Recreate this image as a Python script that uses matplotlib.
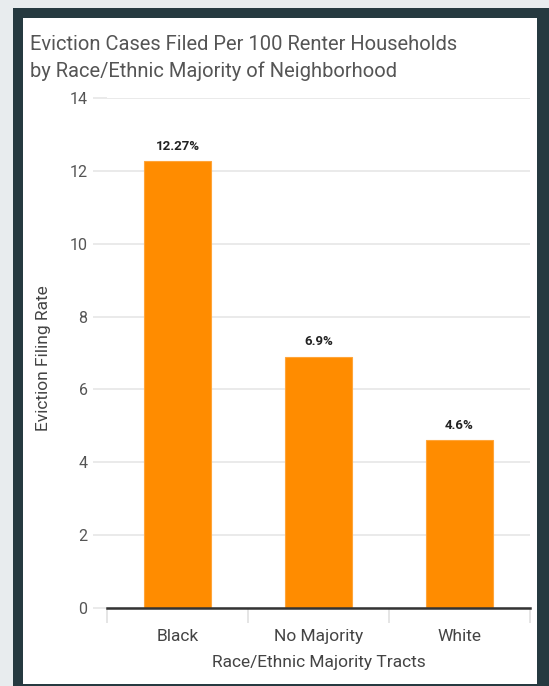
import matplotlib
matplotlib.use("Agg")
import matplotlib.pyplot as plt
from matplotlib.patches import Rectangle

categories = ["Black", "No Majority", "White"]
values = [12.27, 6.9, 4.6]
bar_labels = ["12.27%", "6.9%", "4.6%"]
yticks = [0, 2, 4, 6, 8, 10, 12, 14]
title_lines = ["Eviction Cases Filed Per 100 Renter Households",
               "by Race/Ethnic Majority of Neighborhood"]
xlabel = "Race/Ethnic Majority Tracts"
ylabel = "Eviction Filing Rate"

FONT = ["Roboto", "DejaVu Sans"]
plt.rcParams["font.family"] = FONT

W, H = 549, 686
fig = plt.figure(figsize=(W / 100, H / 100), dpi=100)
fig.patch.set_facecolor("#e8ecee")

def px_rect(x0, y0, x1, y1, color):
    # pixel coords from top-left
    fig.patches.append(Rectangle((x0 / W, 1 - y1 / H), (x1 - x0) / W, (y1 - y0) / H,
                                 transform=fig.transFigure, facecolor=color,
                                 edgecolor="none", zorder=-10))

px_rect(13, 8, 549, 686, "#263a40")
px_rect(23, 18, 537, 684, "white")

ax_l, ax_r, ax_t, ax_b = 107, 530, 98, 608
ax = fig.add_axes([ax_l / W, 1 - ax_b / H, (ax_r - ax_l) / W, (ax_b - ax_t) / H])
ax.set_facecolor("white")

x = list(range(len(categories)))
ax.bar(x, values, width=0.48, color="#ff8c00", edgecolor="#ffa53a", linewidth=0.8, zorder=3)
for xi, v, lab in zip(x, values, bar_labels):
    ax.annotate(lab, (xi, v), xytext=(0, 6), textcoords="offset points",
                ha="center", va="bottom", fontsize=9.5, fontweight="bold", color="#222222")

ax.set_xlim(-0.5, len(categories) - 0.5)
ax.set_ylim(0, 14)
ax.set_yticks(yticks)
ax.set_yticklabels([str(t) for t in yticks])
ax.grid(axis="y", color="#e6e6e6", linewidth=1.2, zorder=0)
ax.tick_params(axis="y", length=10, color="#e6e6e6", width=1.2, labelsize=11.5,
               labelcolor="#555555", pad=4)

for s in ["top", "right", "left"]:
    ax.spines[s].set_visible(False)
ax.spines["bottom"].set_color("#333333")
ax.spines["bottom"].set_linewidth(1.8)
ax.spines["bottom"].set_zorder(4)

# category boundary ticks
ax.set_xticks([-0.5, 0.5, 1.5, 2.5], minor=True)
ax.tick_params(axis="x", which="minor", length=11, color="#e0e0e0", width=1.2)
ax.set_xticks(x)
ax.set_xticklabels(categories)
ax.tick_params(axis="x", which="major", length=0, labelsize=12.5, labelcolor="#444444", pad=15)

ax.set_xlabel(xlabel, fontsize=12.5, color="#444444")
ax.xaxis.set_label_coords(0.5, -(663 - ax_b) / (ax_b - ax_t))
ax.xaxis.label.set_va("center")
ax.set_ylabel(ylabel, fontsize=12.5, color="#444444")
ax.yaxis.set_label_coords(-(ax_l - 44) / (ax_r - ax_l), (ax_b - 358) / (ax_b - ax_t))
ax.yaxis.label.set_va("center")

fig.text(30 / W, 1 - 50 / H, title_lines[0], ha="left", va="baseline", fontsize=14.5,
         color="#555555")
fig.text(30 / W, 1 - 77 / H, title_lines[1], ha="left", va="baseline", fontsize=14.5,
         color="#555555")

fig.savefig("out.png", dpi=100, facecolor=fig.get_facecolor())
